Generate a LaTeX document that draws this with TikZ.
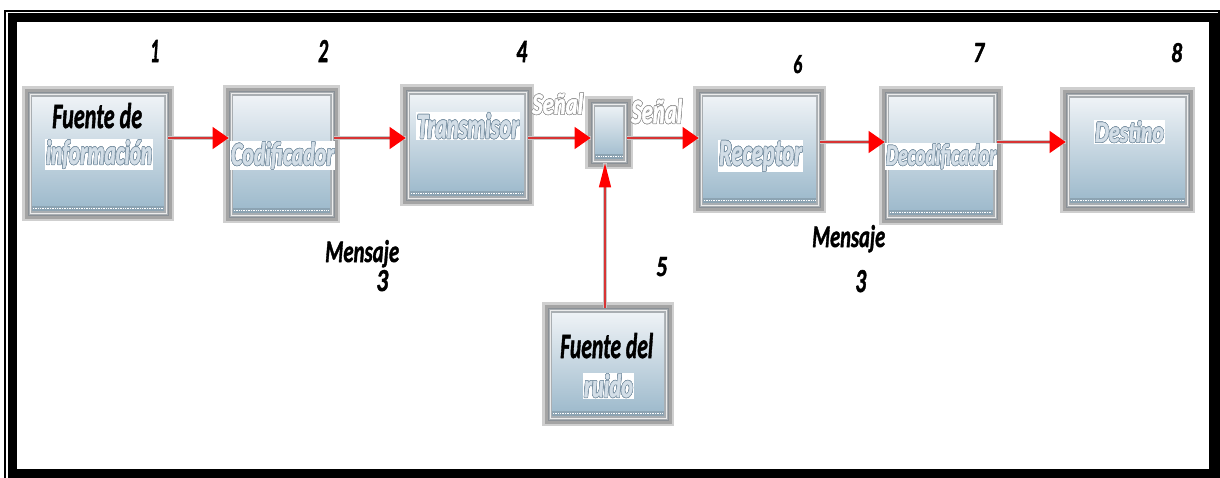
\documentclass[tikz,border=0pt]{standalone}
\usepackage{fontspec}
\usepackage{graphicx}
\usepackage{contour}
\usetikzlibrary{arrows.meta}
\setmainfont{Carlito}
\newfontfamily\heavy{Carlito}[FakeBold=1.6]
\contourlength{0.45pt}

\definecolor{bxtop}{HTML}{F2F5F8}
\definecolor{bxbot}{HTML}{98B6C9}
\definecolor{bxband}{HTML}{8CA3B2}
\definecolor{frm}{HTML}{A9AEB2}
\definecolor{frmline}{HTML}{8A9096}
\definecolor{glow}{HTML}{A0A0A0}
\definecolor{lblfill}{HTML}{D3DEE7}
\definecolor{lblline}{HTML}{7C93A5}
\definecolor{tipred}{HTML}{FF0000}
\definecolor{linered}{HTML}{D83434}

% text squeezed into a given width and height (pt)
\newcommand\fitt[3]{\resizebox{#1pt}{#2pt}{#3}}
% pale outlined lettering
\newcommand\pale[1]{\color{lblfill}\contour{lblline}{#1}}
\newcommand\hollow[1]{\color{white}\contour{gray!80}{#1}}

\tikzset{
  box/.style={rectangle, inner sep=0pt, fill=frm, draw=frmline, line width=0.8pt,
    preaction={draw=glow, line width=12pt, opacity=0.5},
    preaction={draw=glow, line width=7pt, opacity=0.9},
    path picture={
      \shade[top color=bxtop, bottom color=bxbot]
        ([shift={(4pt,-5pt)}]path picture bounding box.north west) rectangle
        ([shift={(-4pt,9pt)}]path picture bounding box.south east);
      \fill[bxband]
        ([shift={(4pt,9pt)}]path picture bounding box.south west) rectangle
        ([shift={(-4pt,4pt)}]path picture bounding box.south east);
      \draw[white, line width=0.7pt, densely dotted]
        ([shift={(5pt,6.5pt)}]path picture bounding box.south west) --
        ([shift={(-5pt,6.5pt)}]path picture bounding box.south east);
      \draw[white!85!gray, line width=0.6pt]
        ([shift={(2pt,2pt)}]path picture bounding box.south west) rectangle
        ([shift={(-2pt,-2pt)}]path picture bounding box.north east);
    }},
  flow/.style={draw=linered, line width=1.5pt,
    -{Triangle[length=16pt, width=22pt, fill=tipred, color=tipred]},
    preaction={draw=black!22, line width=4.5pt, -}},
  flowup/.style={draw=linered, line width=1.5pt,
    -{Triangle[length=24pt, width=12pt, fill=tipred, color=tipred]},
    preaction={draw=black!22, line width=4.5pt, -}},
  blk/.style={inner sep=0pt, anchor=base west, text=black,
    font=\fontsize{20}{24}\heavy\bfseries\itshape},
  lt/.style={inner sep=0.8pt, anchor=base west, fill=white,
    font=\fontsize{20}{24}\heavy\bfseries\itshape},
  ltclear/.style={inner sep=0pt, anchor=base west,
    font=\fontsize{20}{24}\heavy\bfseries\itshape},
}

\begin{document}
\begin{tikzpicture}[x=1pt, y=-1pt]
  \useasboundingbox (0,0) rectangle (1220,477);
  \fill[white] (0,0) rectangle (1220,477);

  % page frame: thin outer rule and heavy inner rule
  \draw[line width=1.6pt] (5,11) rectangle (1219,490);
  \draw[line width=9pt] (12.5,17.75) rectangle (1213,473);

  % blocks
  \node[box, minimum width=140pt, minimum height=123pt] (src)  at (98,153.5)   {};
  \node[box, minimum width=105pt, minimum height=126pt] (enc)  at (281.5,154)  {};
  \node[box, minimum width=122pt, minimum height=110pt] (tx)   at (467,145)    {};
  \node[box, minimum width=36pt,  minimum height=61pt]  (chan) at (609,132.5)  {};
  \node[box, minimum width=121pt, minimum height=115pt] (rx)   at (759.5,149.5){};
  \node[box, minimum width=112pt, minimum height=127pt] (dec)  at (941,155.5)  {};
  \node[box, minimum width=123pt, minimum height=114pt] (dst)  at (1127.5,150) {};
  \node[box, minimum width=120pt, minimum height=112pt] (noise) at (608,364)   {};

  % signal path
  \coordinate (rowA) at (0,138);
  \coordinate (rowB) at (0,142);
  \coordinate (colN) at (605,0);
  \draw[flow] (src.east |- rowA) -- (enc.west |- rowA);
  \draw[flow] (enc.east |- rowA) -- (tx.west |- rowA);
  \draw[flow] (tx.east |- rowA) -- (chan.west |- rowA);
  \draw[flow] (chan.east |- rowA) -- (rx.west |- rowA);
  \draw[flow] (rx.east |- rowB) -- (dec.west |- rowB);
  \draw[flow] (dec.east |- rowB) -- (dst.west |- rowB);
  \draw[flowup] (noise.north -| colN) -- (chan.south -| colN);

  % block titles
  \node[blk] (tSrcA) at (52,128)  {\fitt{90}{25}{Fuente de}};
  \node[lt]  (tSrcB) at (45,164)  {\fitt{106}{24}{\pale{información}}};
  \node[lt]  (tEnc)  at (230,165) {\fitt{103}{23}{\pale{Codificador}}};
  \node[lt]  (tTx)   at (416,138) {\fitt{102}{25}{\pale{Transmisor}}};
  \node[lt]  (tRx)   at (718,165) {\fitt{83}{24}{\pale{Receptor}}};
  \node[lt]  (tDec)  at (885,165) {\fitt{110}{21}{\pale{Decodificador}}};
  \node[lt]  (tDst)  at (1094,142){\fitt{69}{21}{\pale{Destino}}};
  \node[blk] (tNzA)  at (560,358) {\fitt{93}{25}{Fuente del}};
  \node[lt]  (tNzB)  at (583,397) {\fitt{49}{23}{\pale{ruido}}};

  % signal labels
  \node[ltclear] (sigA) at (532,114) {\fitt{51}{21}{\hollow{Señal}}};
  \node[ltclear] (sigB) at (631,123) {\fitt{51}{24}{\hollow{Señal}}};

  % numbering
  \node[blk] (k1) at (150,62)  {\fitt{9}{22}{1}};
  \node[blk] (k2) at (318,62)  {\fitt{10}{22}{2}};
  \node[blk] (k4) at (516,62)  {\fitt{11}{21}{4}};
  \node[blk] (k6) at (793,73)  {\fitt{9}{18}{6}};
  \node[blk] (k7) at (973,62)  {\fitt{11}{19}{7}};
  \node[blk] (k8) at (1171,62) {\fitt{11}{19}{8}};
  \node[blk] (k5) at (656,276) {\fitt{11}{19}{5}};

  % message labels
  \node[blk] (mA)  at (325,262) {\fitt{74}{22}{Mensaje}};
  \node[blk] (mA3) at (376,291) {\fitt{12}{21}{3}};
  \node[blk] (mB)  at (812,247) {\fitt{73}{22}{Mensaje}};
  \node[blk] (mB3) at (855,292) {\fitt{11}{22}{3}};
\end{tikzpicture}
\end{document}
